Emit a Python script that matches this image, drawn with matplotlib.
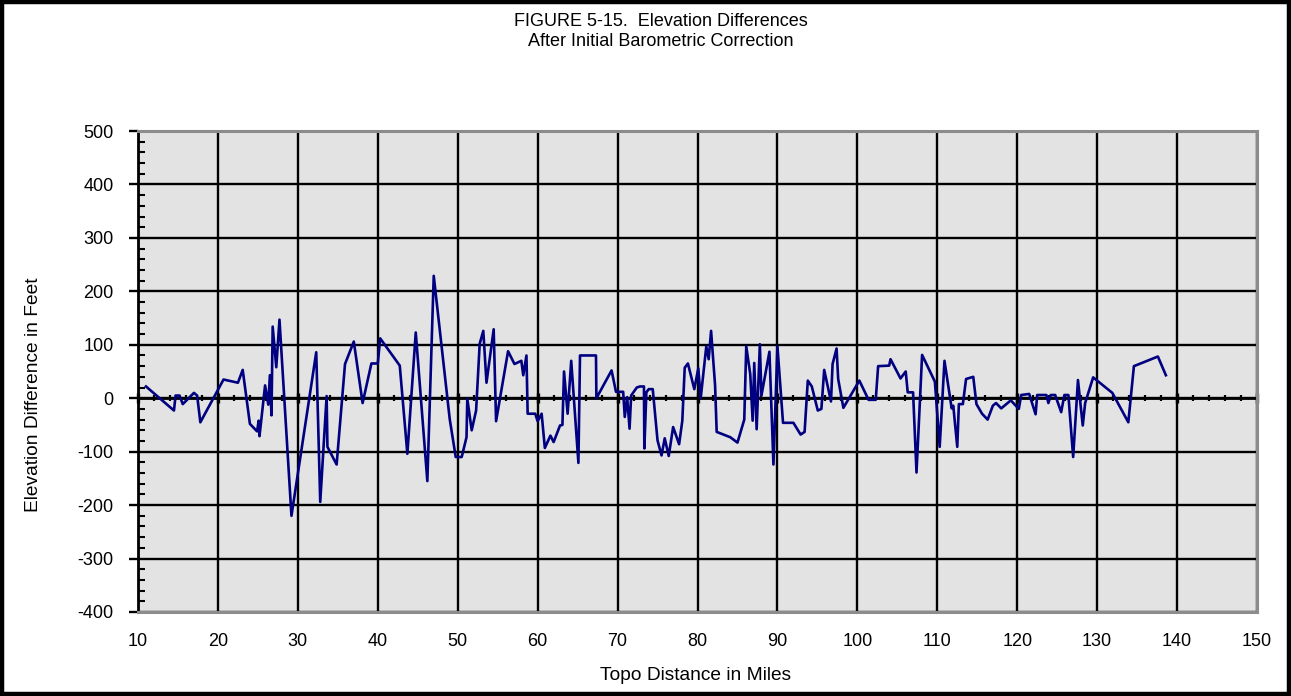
import matplotlib
matplotlib.use("Agg")
import matplotlib.pyplot as plt
from matplotlib.ticker import MultipleLocator
from matplotlib.patches import Rectangle

plt.rcParams['font.family'] = ['Liberation Sans', 'DejaVu Sans']
plt.rcParams['axes.unicode_minus'] = False

title_lines = ["FIGURE 5-15.  Elevation Differences", "After Initial Barometric Correction"]
x_label = "Topo Distance in Miles"
y_label = "Elevation Difference in Feet"

distance = [
    11.0, 14.5, 14.7, 15.2, 15.6, 17.0, 17.4, 17.8, 20.7, 22.5, 23.1, 24.0, 24.9, 25.1, 25.2,
    25.9, 26.3, 26.5, 26.7, 26.85, 27.3, 27.7, 29.2, 32.3, 32.8, 33.6, 33.7, 34.85, 35.9, 37.0,
    38.1, 39.2, 40.0, 40.3, 42.75, 43.7, 44.75, 46.2, 47.0, 49.0, 49.75, 50.5, 51.1, 51.2, 51.75,
    52.3, 52.75, 53.2, 53.6, 54.5, 54.8, 56.3, 57.1, 57.96, 58.2, 58.6, 58.75, 59.7, 60.0, 60.5,
    60.9, 61.6, 62.0, 62.8, 63.1, 63.3, 63.75, 64.2, 65.1, 65.3, 67.3, 67.35, 69.25, 69.8, 70.7,
    70.9, 71.2, 71.5, 71.7, 72.4, 72.8, 73.3, 73.35, 73.6, 73.9, 74.4, 75.0, 75.5, 75.9, 76.4,
    76.95, 77.7, 78.1, 78.4, 78.8, 79.6, 80.1, 80.4, 81.1, 81.4, 81.7, 82.2, 82.4, 84.1, 85.0,
    85.85, 86.1, 86.6, 86.9, 87.1, 87.4, 87.8, 88.0, 89.0, 89.5, 90.0, 90.7, 92.0, 92.9, 93.4,
    93.8, 94.3, 95.05, 95.5, 95.85, 96.7, 96.9, 97.4, 97.6, 98.25, 100.25, 101.4, 102.3, 102.6, 103.98,
    104.15, 105.4, 106.05, 106.3, 106.97, 107.4, 108.1, 109.7, 110.3, 110.9, 111.8, 112.0, 112.5, 112.7, 113.2,
    113.6, 114.5, 114.9, 115.6, 116.3, 116.95, 117.35, 118.0, 119.2, 120.2, 120.5, 121.5, 122.3, 122.5, 123.65,
    123.9, 124.2, 124.75, 125.5, 125.9, 126.4, 127.0, 127.6, 128.2, 128.5, 129.5, 131.9, 133.9, 134.6, 137.6,
    138.6,
]
elev_diff = [
    22, -23, 5, 5, -11, 10, 5, -45, 35, 29, 53, -48, -62, -42, -71,
    24, -12, 43, -32, 134, 58, 147, -220, 86, -194, 4, -91, -124, 64, 106,
    -9, 65, 65, 112, 61, -104, 123, -155, 229, -39, -110, -110, -73, -1, -60,
    -23, 102, 126, 29, 129, -43, 88, 64, 70, 43, 80, -29, -29, -43, -29,
    -93, -70, -82, -51, -50, 50, -29, 70, -121, 80, 80, 0, 52, 12, 12,
    -35, 2, -57, 5, 20, 22, 22, -94, 11, 17, 17, -79, -107, -75, -108,
    -54, -86, -42, 57, 65, 17, 56, 0, 97, 73, 126, 24, -63, -73, -83,
    -40, 97, 45, -42, 66, -58, 101, 5, 87, -124, 97, -46, -46, -68, -63,
    33, 22, -23, -20, 53, -6, 64, 93, 36, -18, 33, -3, -3, 60, 61,
    73, 37, 50, 11, 11, -139, 81, 31, -91, 70, -19, -14, -91, -11, -11,
    36, 40, -11, -29, -40, -14, -9, -19, -4, -20, 6, 8, -30, 6, 6,
    -9, 6, 6, -26, 6, 6, -110, 34, -51, -9, 39, 10, -45, 60, 78,
    43,
]

x_min, x_max, x_step = 10, 150, 10
y_min, y_max, y_step = -400, 500, 100

W, H = 1291, 696
fig = plt.figure(figsize=(W / 100, H / 100), dpi=100)
fig.patch.set_facecolor('white')
bw = 2.2 / W
bh = 2.2 / H
fig.patches.append(Rectangle((bw, bh), 1 - 2 * bw, 1 - 2 * bh, transform=fig.transFigure,
                             fill=False, edgecolor='black', linewidth=3.2))

left, right, top, bottom = 138 / W, 1257 / W, 131 / H, 612 / H
ax = fig.add_axes([left, 1 - bottom, right - left, bottom - top])
ax.set_facecolor('#E3E3E3')
ax.set_xlim(x_min, x_max)
ax.set_ylim(y_min, y_max)
ax.xaxis.set_major_locator(MultipleLocator(x_step))
ax.yaxis.set_major_locator(MultipleLocator(y_step))
ax.yaxis.set_minor_locator(MultipleLocator(20))
ax.grid(True, which='major', color='black', linewidth=1.7, zorder=1)
ax.set_axisbelow(True)

for s in ['top', 'right', 'bottom']:
    ax.spines[s].set_color('#8C8C8C')
    ax.spines[s].set_linewidth(2.2)
ax.spines['left'].set_color('black')
ax.spines['left'].set_linewidth(2.0)

ax.tick_params(axis='x', which='both', length=0, labelsize=13, pad=15)
ax.tick_params(axis='y', which='major', direction='out', length=6.5, width=1.7, labelsize=13, pad=11)
ax.tick_params(axis='y', which='minor', direction='in', length=5, width=1.5)

# Horizontal axis crossing at zero with its minor ticks
zero_pos = (0 - y_min) / (y_max - y_min)
sec = ax.secondary_xaxis(zero_pos)
sec.xaxis.set_major_locator(MultipleLocator(x_step))
sec.xaxis.set_minor_locator(MultipleLocator(2))
sec.spines['bottom'].set_linewidth(2.0)
sec.spines['bottom'].set_color('black')
sec.tick_params(axis='x', which='major', direction='inout', length=7, width=2.4, labelbottom=False)
sec.tick_params(axis='x', which='minor', direction='inout', length=5, width=1.6, labelbottom=False)

ax.plot(distance, elev_diff, color='#000080', linewidth=1.9, zorder=3, clip_on=False)

ax.set_xlabel(x_label, fontsize=13.8, va='center')
ax.xaxis.set_label_coords(0.498, (612 - 675) / 481)
ax.set_ylabel(y_label, fontsize=13.8, va='center')
ax.yaxis.set_label_coords((33 - 138) / 1119, (612 - 395) / 481)

fig.text(661 / W, 1 - 21.5 / H, title_lines[0], ha='center', va='center', fontsize=13)
fig.text(661 / W, 1 - 41 / H, title_lines[1], ha='center', va='center', fontsize=13)

fig.savefig('out.png', dpi=100)
